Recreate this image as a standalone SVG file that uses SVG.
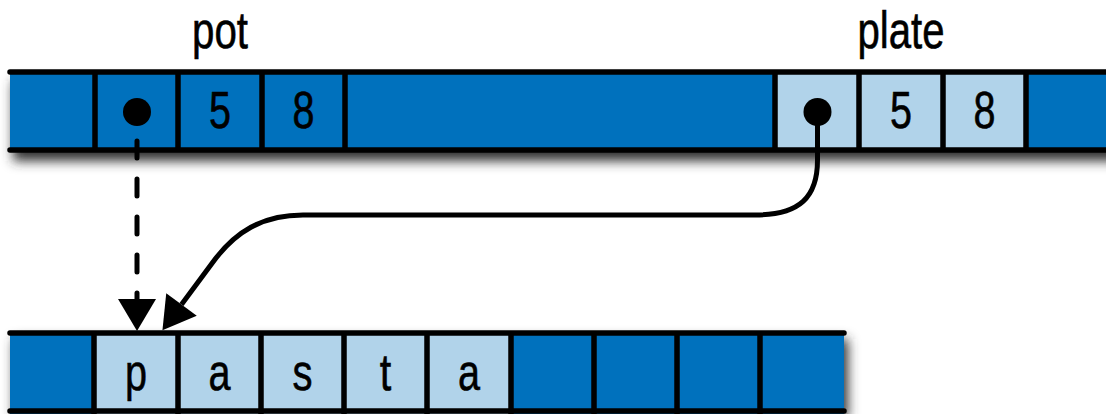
<svg xmlns="http://www.w3.org/2000/svg" width="1106" height="414" viewBox="0 0 1106 414">
<style>
.dark{fill:#0071BD}
.light{fill:#B1D3EA}
.rule{stroke:#000;stroke-width:5.5;stroke-linecap:round;fill:none}
.div{stroke:#000;stroke-width:5.5;fill:none}
.t{font-family:"Liberation Sans",Arial,sans-serif;font-size:52px;fill:#000;text-anchor:middle;stroke:#000;stroke-width:0.6}
.conn{stroke:#000;stroke-width:5;fill:none}
</style>
<defs>
<filter id="sh" x="-10%" y="-50%" width="120%" height="200%">
<feGaussianBlur stdDeviation="6"/>
</filter>
<marker id="ah" markerUnits="userSpaceOnUse" markerWidth="40" markerHeight="44" refX="0" refY="0" orient="auto" overflow="visible">
<path d="M0,-19 L32,0 L0,19 Z" fill="#000"/>
</marker>
</defs>
<rect x="10" y="74" width="1110" height="80" fill="#333" filter="url(#sh)" transform="translate(3,7)"/>
<rect x="10" y="335" width="834" height="80" fill="#333" filter="url(#sh)" transform="translate(4,4)"/>
<rect x="0" y="0" width="1106" height="66" fill="#fff"/>
<g id="label-pot"><text class="t" x="220" y="48" textLength="56" lengthAdjust="spacingAndGlyphs">pot</text></g>
<g id="label-plate"><text class="t" x="901" y="48" textLength="87" lengthAdjust="spacingAndGlyphs">plate</text></g>
<g id="stack">
<rect class="dark" x="10" y="72" width="1100" height="78"/>
<g id="pot-ptr"><rect class="dark" x="95" y="72" width="83" height="78"/><circle cx="137" cy="112" r="14" fill="#000"/></g>
<g id="pot-cap"><text class="t" x="220" y="128" textLength="22" lengthAdjust="spacingAndGlyphs">5</text></g>
<g id="pot-len"><text class="t" x="303.5" y="128" textLength="22" lengthAdjust="spacingAndGlyphs">8</text></g>
<g id="plate-ptr"><rect class="light" x="775" y="72" width="84" height="78"/><circle cx="817.5" cy="112" r="14" fill="#000"/></g>
<g id="plate-cap"><rect class="light" x="859" y="72" width="84" height="78"/><text class="t" x="901" y="128" textLength="22" lengthAdjust="spacingAndGlyphs">5</text></g>
<g id="plate-len"><rect class="light" x="943" y="72" width="83" height="78"/><text class="t" x="984.5" y="128" textLength="22" lengthAdjust="spacingAndGlyphs">8</text></g>
<path class="div" d="M95 72V150M178 72V150M262 72V150M345 72V150M775 72V150M859 72V150M943 72V150M1026 72V150"/>
<path class="rule" d="M10 72H1110M10 150H1110"/>
</g>
<g id="heap">
<rect class="dark" x="10" y="333" width="834" height="81"/>
<g id="h-p"><rect class="light" x="94" y="333" width="84" height="81"/><text class="t" x="136" y="390" textLength="22" lengthAdjust="spacingAndGlyphs">p</text></g>
<g id="h-a1"><rect class="light" x="178" y="333" width="83" height="81"/><text class="t" x="219.5" y="390" textLength="22" lengthAdjust="spacingAndGlyphs">a</text></g>
<g id="h-s"><rect class="light" x="261" y="333" width="83" height="81"/><text class="t" x="302.5" y="390" textLength="20" lengthAdjust="spacingAndGlyphs">s</text></g>
<g id="h-t"><rect class="light" x="344" y="333" width="83" height="81"/><text class="t" x="385.5" y="390" textLength="11.5" lengthAdjust="spacingAndGlyphs">t</text></g>
<g id="h-a2"><rect class="light" x="427" y="333" width="84" height="81"/><text class="t" x="469" y="390" textLength="22" lengthAdjust="spacingAndGlyphs">a</text></g>
<path class="div" d="M94 333V414M178 333V414M261 333V414M344 333V414M427 333V414M511 333V414M594 333V414M677 333V414M760 333V414"/>
<path class="rule" d="M10 333H844M10 411H844"/>
</g>
<g id="connectors">
<path class="conn" d="M137 141V299" stroke-dasharray="17 21" stroke-linecap="round" marker-end="url(#ah)"/>
<path class="conn" d="M817.5 112V160C817.5 197 800 215 755 215H303C262 215 235 232 213 262L181.5 304.5" marker-end="url(#ah)"/>
</g>
</svg>
